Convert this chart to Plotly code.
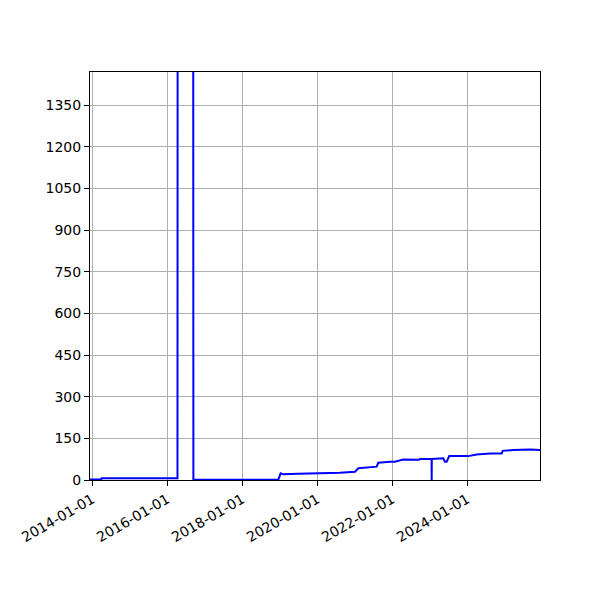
import plotly.graph_objects as go

dates = [
    "2013-12-10", "2014-03-30", "2014-04-01", "2016-04-10", "2016-04-12",
    "2016-09-10", "2016-09-12", "2018-12-18", "2019-01-10", "2019-02-04",
    "2019-06-30", "2020-03-01", "2020-08-09", "2021-01-03", "2021-02-04",
    "2021-08-02", "2021-08-18", "2021-12-10", "2022-01-27", "2022-04-18",
    "2022-09-11", "2022-09-20", "2022-09-28", "2023-01-19", "2023-01-20",
    "2023-01-21", "2023-05-13", "2023-05-29", "2023-06-15", "2023-07-10",
    "2024-01-11", "2024-04-02", "2024-08-10", "2024-12-02", "2024-12-11",
    "2025-03-24", "2025-09-04", "2025-12-10",
]
values = [
    2, 3, 6, 6, 2000,
    2000, 1, 1, 24, 20.5,
    22.5, 24, 26, 30, 42,
    48, 62, 66, 66, 74,
    75.5, 73, 76, 76, 0,
    76, 78, 66, 66, 86,
    86, 92, 95, 95, 105,
    108, 110, 108,
]
y_ticks = [0, 150, 300, 450, 600, 750, 900, 1050, 1200, 1350]

fig = go.Figure()
fig.add_trace(go.Scatter(
    x=dates, y=values, mode="lines",
    line=dict(color="#0000ff", width=2),
))

axis_style = dict(
    showline=True, linecolor="black", linewidth=1, mirror=True,
    showgrid=True, gridcolor="#b0b0b0", gridwidth=1,
    ticks="outside", ticklen=5, tickcolor="black", zeroline=False,
    tickfont=dict(family="DejaVu Sans", size=14, color="black"),
)
fig.update_xaxes(
    range=["2013-12-10", "2025-12-10"], tick0="2014-01-01", dtick="M24",
    tickformat="%Y-%m-%d", tickangle=-30, **axis_style,
)
fig.update_yaxes(range=[0, 1469], tickvals=y_ticks, **axis_style)
# page body adds ~8px offset, so margins are shifted up/left
fig.update_layout(
    width=600, height=600, showlegend=False,
    plot_bgcolor="white", paper_bgcolor="white",
    margin=dict(l=82, r=68, t=64, b=128),
)
fig.write_html("out.html")
